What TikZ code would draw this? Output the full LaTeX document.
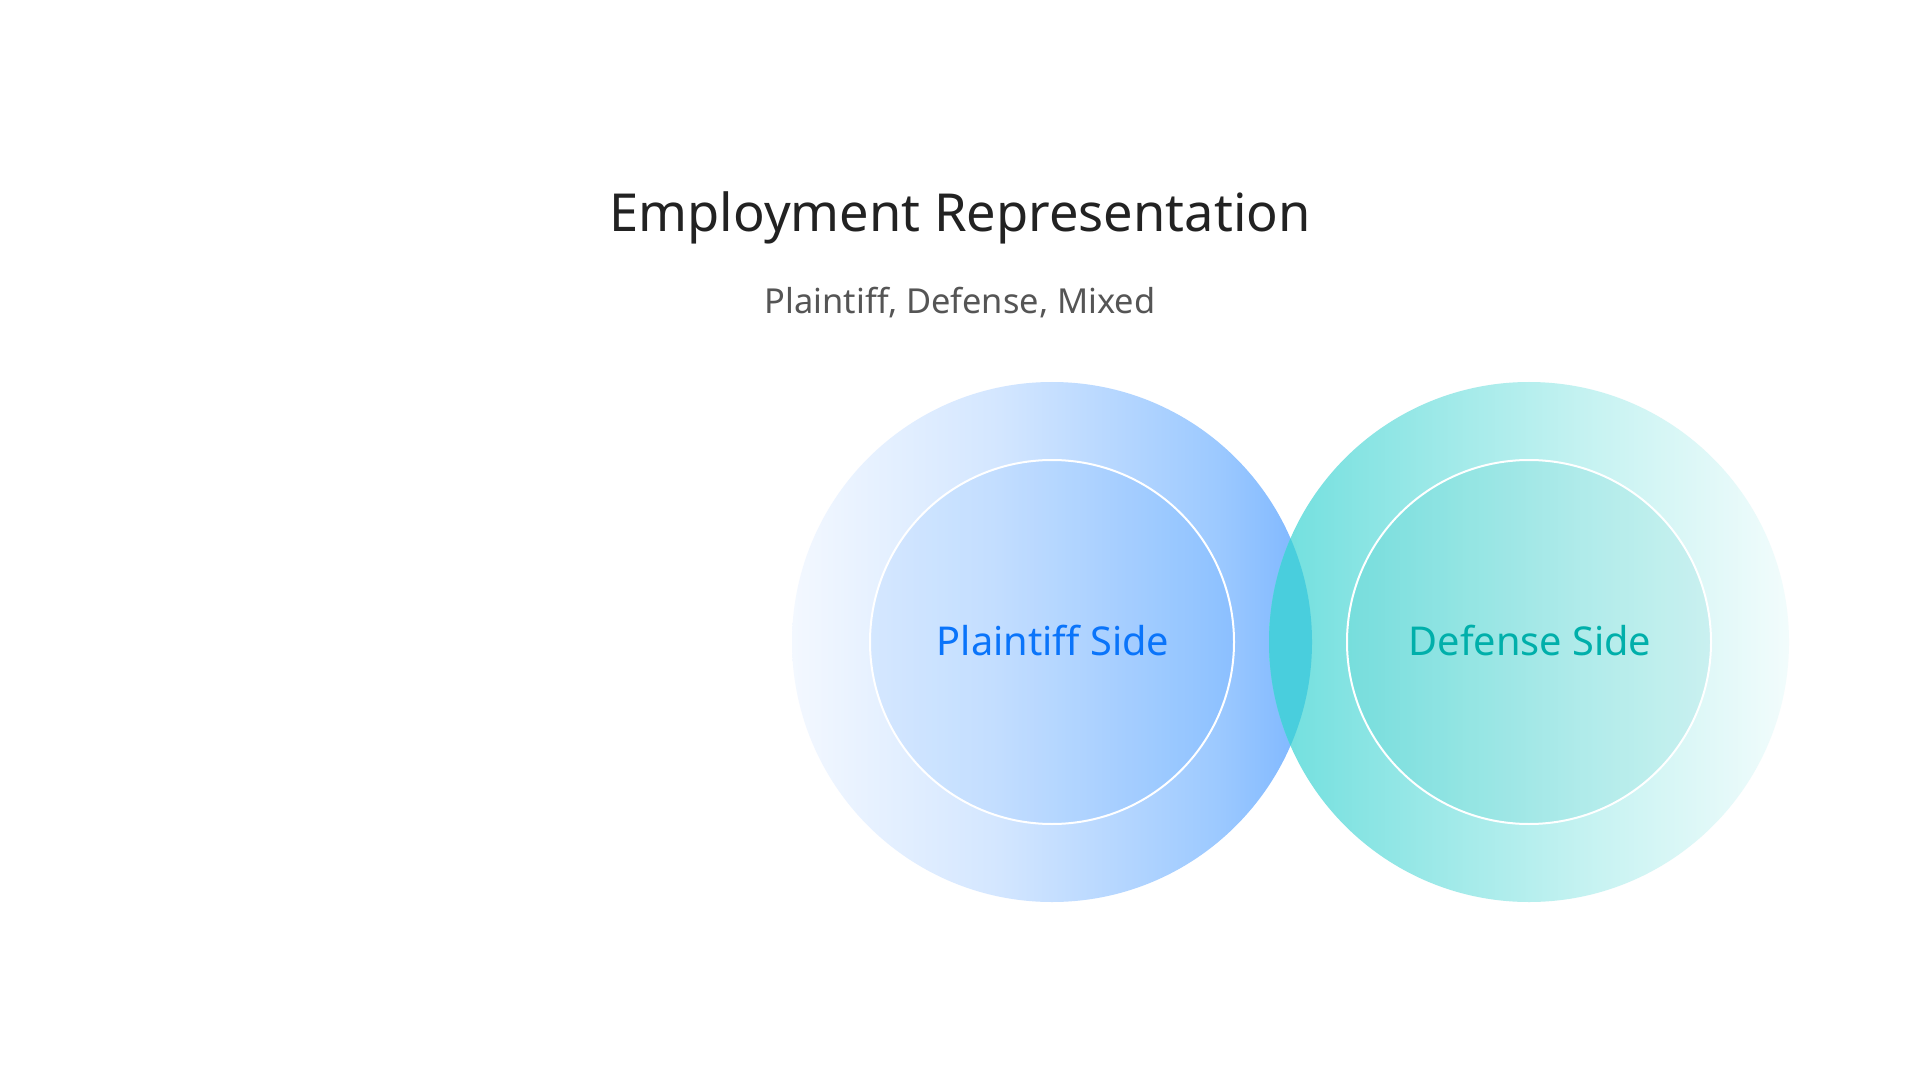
\documentclass[tikz,border=0pt]{standalone}
\usepackage{fontspec}
\setmainfont{Noto Sans}
\definecolor{titlecol}{HTML}{222222}
\definecolor{subcol}{HTML}{555555}
\definecolor{plainink}{HTML}{0A74FA}
\definecolor{defink}{HTML}{00AFAA}
\definecolor{blueA}{HTML}{F3F8FF}
\definecolor{blueB}{HTML}{D3E6FF}
\definecolor{blueC}{HTML}{9CC9FF}
\definecolor{blueD}{HTML}{80B8FF}
\definecolor{blueE}{HTML}{7AB4FF}
\definecolor{tealA}{HTML}{6EDFDE}
\definecolor{tealB}{HTML}{88E4E3}
\definecolor{tealC}{HTML}{C4F2F1}
\definecolor{tealD}{HTML}{F2FCFC}
\definecolor{lenscol}{HTML}{49CEDD}
\definecolor{blueover}{HTML}{007AFF}
\definecolor{tealover}{HTML}{00B2AE}
\pgfdeclarehorizontalshading{blueshade}{100bp}{color(0bp)=(blueA); color(25bp)=(blueA); color(45bp)=(blueB); color(66bp)=(blueC); color(73.8bp)=(blueD); color(75bp)=(blueE); color(100bp)=(blueE)}
\pgfdeclarehorizontalshading{tealshade}{100bp}{color(0bp)=(tealA); color(25bp)=(tealA); color(33.8bp)=(tealB); color(55bp)=(tealC); color(75bp)=(tealD); color(100bp)=(tealD)}
\tikzset{
  ring/.style={draw=white, line width=1.5pt},
  title/.style={anchor=base, text=titlecol, font=\fontsize{39.3pt}{46pt}\selectfont, inner sep=0pt},
  subtitle/.style={anchor=base, text=subcol, font=\fontsize{25.8pt}{30pt}\selectfont, inner sep=0pt},
  sidelabel/.style={anchor=base, font=\fontsize{29.8pt}{34pt}\selectfont, inner sep=0pt}
}
\begin{document}
\begin{tikzpicture}[x=0.75pt,y=-0.75pt]
\useasboundingbox (0,0) rectangle (1920,1080);
\fill[white] (0,0) rectangle (1920,1080);
% outer circles
\shade[shading=blueshade] (1052,642) circle[radius=195pt];
\shade[shading=tealshade] (1529,642) circle[radius=195pt];
\begin{scope}
  \clip (1052,642) circle[radius=195pt];
  \fill[lenscol] (1529,642) circle[radius=195pt];
\end{scope}
% inner circles
\fill[blueover, opacity=0.08] (1052,642) circle[radius=136.5pt];
\draw[ring] (1052,642) circle[radius=136.5pt];
\fill[tealover, opacity=0.10] (1529,642) circle[radius=136.5pt];
\draw[ring] (1529,642) circle[radius=136.5pt];
% texts
\node[title] (t) at (960,232) {Employment Representation};
\node[subtitle] (s) at (960,314) {Plaintiff, Defense, Mixed};
\node[sidelabel, text=plainink] (p) at (1053,655) {Plaintiff Side};
\node[sidelabel, text=defink] (d) at (1530,655) {Defense Side};
\end{tikzpicture}
\end{document}
